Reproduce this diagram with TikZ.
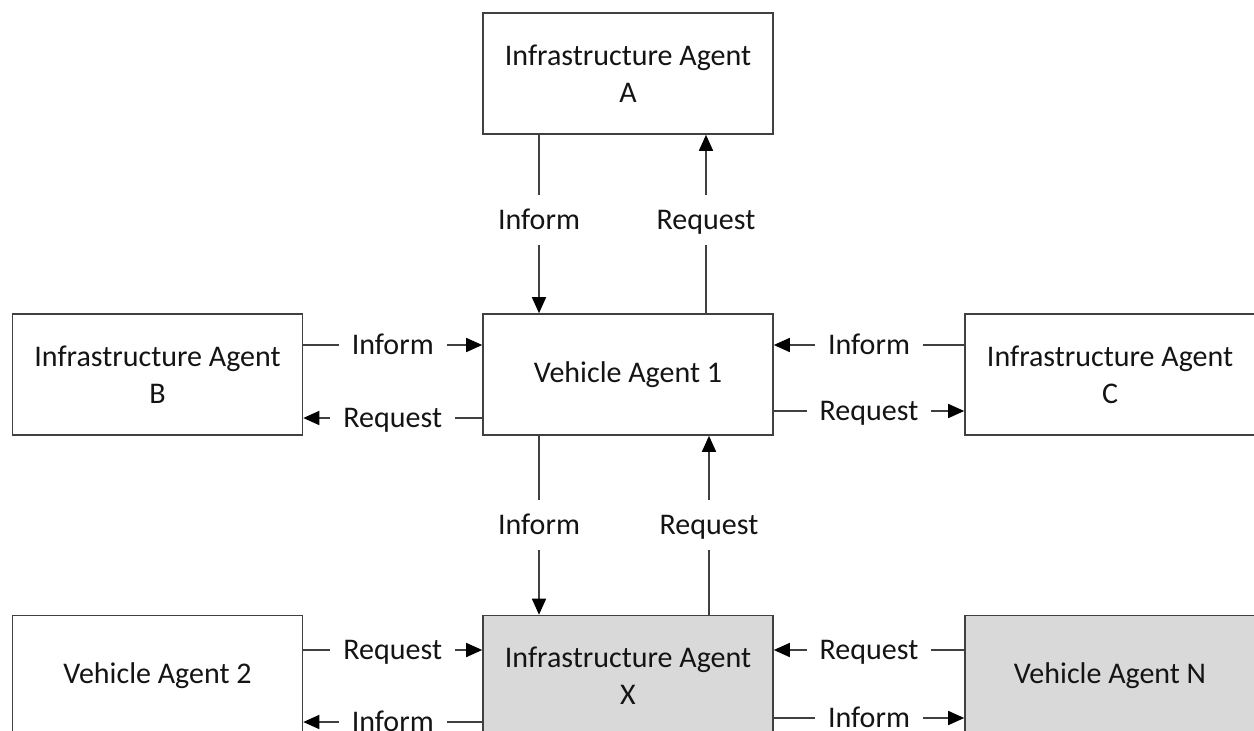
\documentclass[tikz,border=0pt]{standalone}
\usepackage{fontspec}
\setmainfont{Carlito}
\usetikzlibrary{arrows.meta}
\definecolor{edgegray}{HTML}{404040}
\definecolor{boxgray}{HTML}{D9D9D9}
\definecolor{txt}{HTML}{141414}
\begin{document}
\begin{tikzpicture}[x=1pt,y=-1pt,
  agent/.style={draw=edgegray, line width=1.6pt, fill=white, minimum width=290pt, minimum height=121pt,
    inner sep=0pt, align=center, text=txt, font=\fontsize{30}{37}\selectfont},
  grayagent/.style={agent, fill=boxgray},
  arr/.style={draw=edgegray, line width=1.6pt, -{Triangle[length=16pt,width=14pt,color=black]}},
  lbl/.style={fill=white, text=txt, font=\fontsize{30}{37}\selectfont, text height=24pt, text depth=6pt,
    inner xsep=13pt, inner ysep=10pt, midway}
]
\useasboundingbox (0,0) rectangle (1254,731);
\clip (0,0) rectangle (1254,731);
\fill[white] (0,0) rectangle (1254,731);

\node[agent] (A)  at (628,73.5)  {Infrastructure Agent\\A};
\node[agent] (B)  at (157.5,374.5) {Infrastructure Agent\\B};
\node[agent] (V1) at (628,374.5) {Vehicle Agent 1};
\node[agent] (C)  at (1110,374.5) {Infrastructure Agent\\C};
\node[agent] (V2) at (157.5,676) {Vehicle Agent 2};
\node[grayagent] (X) at (628,676) {Infrastructure Agent\\X};
\node[grayagent] (N) at (1110,676) {Vehicle Agent N};

% A <-> V1
\draw[arr] (A.south -| 539,0) -- node[lbl,pos=0.48]{Inform} (V1.north -| 539,0);
\draw[arr] (V1.north -| 706,0) -- node[lbl,pos=0.52]{Request} (A.south -| 706,0);
% B <-> V1
\draw[arr] (B.east |- 0,345) -- node[lbl]{Inform} (V1.west |- 0,345);
\draw[arr] (V1.west |- 0,418) -- node[lbl]{Request} (B.east |- 0,418);
% C <-> V1
\draw[arr] (C.west |- 0,345) -- node[lbl]{Inform} (V1.east |- 0,345);
\draw[arr] (V1.east |- 0,411) -- node[lbl]{Request} (C.west |- 0,411);
% V1 <-> X
\draw[arr] (V1.south -| 539,0) -- node[lbl]{Inform} (X.north -| 539,0);
\draw[arr] (X.north -| 709,0) -- node[lbl]{Request} (V1.south -| 709,0);
% V2 <-> X
\draw[arr] (V2.east |- 0,650) -- node[lbl]{Request} (X.west |- 0,650);
\draw[arr] (X.west |- 0,722) -- node[lbl]{Inform} (V2.east |- 0,722);
% N <-> X
\draw[arr] (N.west |- 0,650) -- node[lbl]{Request} (X.east |- 0,650);
\draw[arr] (X.east |- 0,718) -- node[lbl]{Inform} (N.west |- 0,718);
\end{tikzpicture}
\end{document}
